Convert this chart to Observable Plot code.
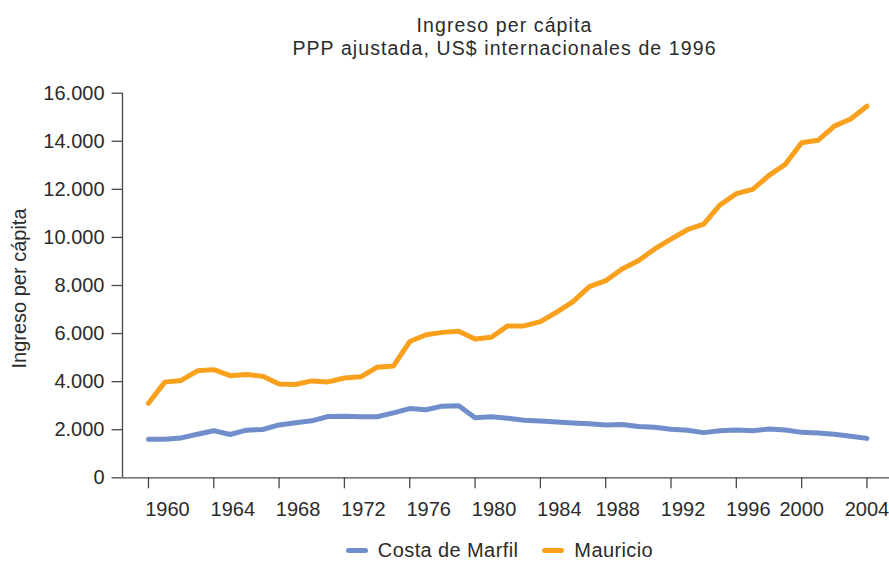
<!DOCTYPE html>
<html>
<head>
<meta charset="utf-8">
<script src="https://cdn.jsdelivr.net/npm/d3@7"></script>
<script src="https://cdn.jsdelivr.net/npm/@observablehq/plot@0.6"></script>
<style>
  html, body { margin: 0; padding: 0; background: #fff; }
  body { width: 889px; height: 562px; overflow: hidden; font-family: "Liberation Sans", Arial, sans-serif; color: #2b2b2b; }
  #title { padding-top: 14px; height: 46px; text-align: center; font-size: 19.5px; line-height: 23px; letter-spacing: 1.1px; padding-left: 120px; box-sizing: content-box; }
  #legend { display: flex; justify-content: center; align-items: center; padding-top: 18px; height: 24px; font-size: 20px; line-height: 24px; padding-left: 110px; letter-spacing: 0.4px; }
  .item { display: flex; align-items: center; }
  .sw { width: 22px; height: 5px; border-radius: 3px; margin-right: 10px; }
  .gap { width: 24px; }
  svg { display: block; }
</style>
</head>
<body>
<div id="title">Ingreso per cápita<br>PPP ajustada, US$ internacionales de 1996</div>
<div id="chart"></div>
<div id="legend"></div>
<script>
const years = [1960,1961,1962,1963,1964,1965,1966,1967,1968,1969,
               1970,1971,1972,1973,1974,1975,1976,1977,1978,1979,
               1980,1981,1982,1983,1984,1985,1986,1987,1988,1989,
               1990,1991,1992,1993,1994,1995,1996,1997,1998,1999,
               2000,2001,2002,2003,2004];
const costaDeMarfil = [1600,1600,1660,1810,1960,1800,1980,2010,2200,2290,
                       2370,2550,2560,2540,2540,2700,2880,2830,2980,3000,
                       2500,2540,2480,2390,2360,2320,2280,2250,2200,2220,
                       2130,2100,2020,1980,1880,1960,1990,1960,2030,1990,
                       1890,1860,1810,1730,1640];
const mauricio = [3100,3980,4050,4450,4500,4250,4300,4220,3900,3880,
                  4030,3990,4150,4200,4600,4650,5670,5950,6050,6100,
                  5770,5850,6320,6320,6500,6890,7330,7950,8200,8690,
                  9030,9520,9930,10320,10550,11350,11820,12000,12580,13040,
                  13940,14040,14630,14930,15460];
const seriesNames = ["Costa de Marfil", "Mauricio"];
const seriesColors = ["#6f8ecb", "#f9a11d"];
const xTicks = [1960,1964,1968,1972,1976,1980,1984,1988,1992,1996,2000,2004];
const yTicks = [0,2000,4000,6000,8000,10000,12000,14000,16000];
const yLabel = "Ingreso per cápita";

const rows = [];
years.forEach((yr, i) => {
  rows.push({year: yr, value: costaDeMarfil[i], serie: seriesNames[0]});
  rows.push({year: yr, value: mauricio[i], serie: seriesNames[1]});
});

const es = d3.formatLocale({decimal: ",", thousands: ".", grouping: [3], currency: ["", ""]});
const fmt = es.format(",");

const xDomain = [1958.41, 2005.38];
const axisColor = "#4a4a4a";

// tick labels in the reference sit right of their ticks early on and drift back to centred at the end
const labelGroups = [
  {ticks: xTicks.filter(d => d < 1988), dx: 19},
  {ticks: xTicks.filter(d => d >= 1988 && d < 2000), dx: 12},
  {ticks: xTicks.filter(d => d >= 2000), dx: 0}
];

const chart = Plot.plot({
  width: 889,
  height: 460,
  marginLeft: 122,
  marginRight: 0,
  marginTop: 32.7,
  marginBottom: 42.7,
  style: {fontFamily: "'Liberation Sans', Arial, sans-serif", fontSize: "20px", color: "#2b2b2b", background: "#fff"},
  x: {domain: xDomain},
  y: {domain: [0, 16000]},
  color: {domain: seriesNames, range: seriesColors},
  marks: [
    Plot.axisX({ticks: xTicks, tickFormat: () => "", tickSize: 11, stroke: axisColor, strokeWidth: 1.3, label: null}),
    ...labelGroups.map(g => Plot.axisX({ticks: g.ticks, tickFormat: d => String(d), tickSize: 0, tickPadding: 23.5, dx: g.dx, label: null, fontSize: 20})),
    Plot.axisY({ticks: yTicks, tickFormat: d => fmt(d), tickSize: 10.5, tickPadding: 7.5, stroke: axisColor, strokeWidth: 1.3, label: null, fontSize: 20}),
    Plot.ruleX([xDomain[0]], {y1: 0, y2: 16000, stroke: axisColor, strokeWidth: 1.3}),
    Plot.ruleY([0], {stroke: axisColor, strokeWidth: 1.3}),
    Plot.line(rows, {x: "year", y: "value", z: "serie", stroke: "serie", strokeWidth: 5, strokeLinejoin: "round", strokeLinecap: "round"}),
    Plot.text([yLabel], {text: d => d, frameAnchor: "left", dx: -103, dy: 3, rotate: -90, fontSize: 20, fill: "#2b2b2b", letterSpacing: "1px", textAnchor: "middle"})
  ]
});
document.getElementById("chart").appendChild(chart);

const legend = document.getElementById("legend");
seriesNames.forEach((name, i) => {
  if (i > 0) { const g = document.createElement("div"); g.className = "gap"; legend.appendChild(g); }
  const it = document.createElement("div"); it.className = "item";
  const sw = document.createElement("div"); sw.className = "sw"; sw.style.background = seriesColors[i];
  const tx = document.createElement("span"); tx.textContent = name;
  it.appendChild(sw); it.appendChild(tx); legend.appendChild(it);
});
</script>
</body>
</html>
